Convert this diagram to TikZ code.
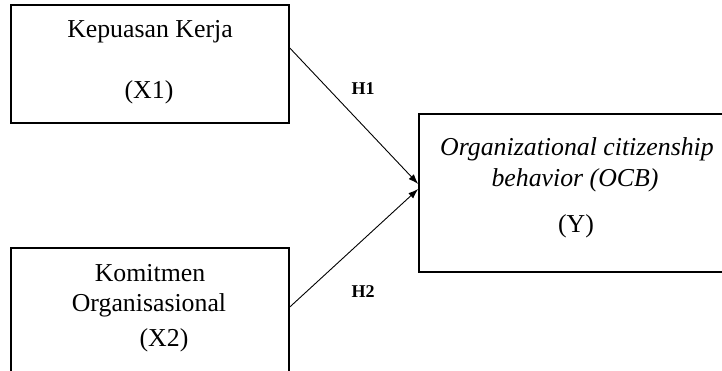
\documentclass[tikz,border=0pt]{standalone}
\usepackage{fontspec}
\setmainfont{Liberation Serif}
\usetikzlibrary{arrows.meta}
\begin{document}
\begin{tikzpicture}[x=1pt,y=-1pt,
  box/.style={draw,line width=1.6pt,rectangle,inner sep=0pt},
  lbl/.style={anchor=base,inner sep=0pt,font=\fontsize{25.8}{30}\selectfont},
  hyp/.style={anchor=base,inner sep=0pt,font=\fontsize{18}{21}\selectfont\bfseries},
  conn/.style={line width=0.9pt,-{Latex[length=10pt,width=7pt]}}]
\clip (0,0) rectangle (722,370);
\node[box,minimum width=278pt,minimum height=118pt] (box1) at (150,64) {};
\node[box,minimum width=278pt,minimum height=142pt] (box2) at (150,319) {};
\node[box,minimum width=311pt,minimum height=158pt] (box3) at (574.5,193) {};
\node[lbl] (t1a) at (150,37) {Kepuasan Kerja};
\node[lbl] (t1b) at (149,98) {(X1)};
\node[lbl] (t2a) at (150,281) {Komitmen};
\node[lbl] (t2b) at (149,311) {Organisasional};
\node[lbl] (t2c) at (164,346) {(X2)};
\node[lbl] (t3a) at (577,155) {\itshape Organizational citizenship};
\node[lbl] (t3b) at (575,186) {\itshape behavior (OCB)};
\node[lbl] (t3c) at (576,232) {(Y)};
\node[hyp] (h1) at (363,94) {H1};
\node[hyp] (h2) at (363,297) {H2};
\draw[conn] ([yshift=16pt]box1.east) -- ([yshift=9pt]box3.west);
\draw[conn] ([yshift=12pt]box2.east) -- ([yshift=4pt]box3.west);
\end{tikzpicture}
\end{document}
